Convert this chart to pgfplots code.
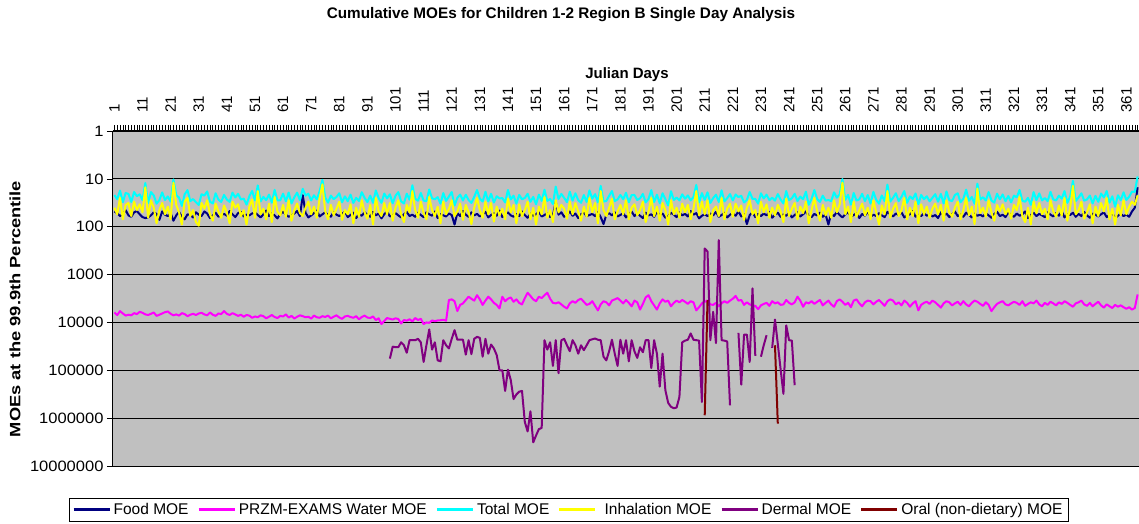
\documentclass[border=0pt]{standalone}
\usepackage{fontspec}
\setmainfont{Liberation Sans}
\usepackage{graphicx}
\usepackage{pgfplots}
\usepackage{pgfplotstable}
\pgfplotsset{compat=1.18}
\definecolor{plotbg}{RGB}{192,192,192}
\definecolor{foodc}{RGB}{0,0,128}
\definecolor{waterc}{RGB}{255,0,255}
\definecolor{totalc}{RGB}{0,255,255}
\definecolor{inhalc}{RGB}{255,255,0}
\definecolor{dermc}{RGB}{128,0,128}
\definecolor{oralc}{RGB}{128,0,0}

\pgfplotstableread{
d F W T I
1 48 6200 21.8 40
2 52 7000 26.7 55
3 60 5800 17.6 25
4 55 6500 30.8 70
5 45 7200 19.7 35
6 58 6900 20.6 32
7 62 7100 30.5 60
8 50 6400 18.8 30
9 47 6700 23 45
10 55 6000 21 34
11 63 6300 27.9 50
12 66 6800 12.2 15
13 64 7000 32.2 65
14 58 6600 18.9 28
15 50 6200 22.2 40
16 54 7300 33 85
17 72 6900 27.7 45
18 48 6500 19.2 32
19 56 6100 27.7 55
20 60 5900 23.3 38
21 52 6600 29.8 70
22 75 7100 10.3 12
23 58 6800 21.8 35
24 49 7200 24.7 50
25 62 6400 36.7 90
26 70 6700 21 30
27 55 7400 17.2 25
28 57 6900 29.2 60
29 64 6600 26.4 45
30 50 7000 30.8 80
31 56 6500 35.2 95
32 60 6300 20.9 32
33 48 6800 22.4 42
34 53 7100 18.3 28
35 66 6200 30 55
36 58 6900 32.7 75
37 51 7300 20 33
38 62 6500 27.1 48
39 57 6700 30.4 65
40 54 5800 21.6 36
41 59 6600 27.1 50
42 47 7000 30.3 85
43 55 6400 19.4 30
44 63 6800 24.5 40
45 52 7300 20.6 34
46 49 6900 27 60
47 61 7600 25.9 45
48 56 7000 34.5 90
49 58 7200 23 38
50 53 8000 17.9 27
51 50 7500 28.3 65
52 57 7800 13.7 18
53 64 7100 29.6 55
54 55 7400 23.8 42
55 46 8200 27.8 70
56 60 7600 21.3 33
57 52 7000 31.5 80
58 58 7700 17 24
59 67 8100 28 48
60 54 7300 28 58
61 49 7500 20.4 35
62 56 6800 29.4 62
63 62 7900 19.3 28
64 58 7300 32.7 75
65 53 8300 24.3 45
66 47 7600 19.4 33
67 60 7100 27.9 52
68 22 7400 16.1 60
69 51 7800 22.4 40
70 64 7600 20.4 30
71 58 8300 28.2 55
72 52 7200 22 38
73 46 7800 26.9 65
74 61 8000 18.2 26
75 55 7400 10.5 13
76 50 7700 24.5 48
77 57 7200 31.4 70
78 62 8200 22.4 35
79 49 7600 26.6 58
80 56 7100 24 42
81 60 7900 20 30
82 54 8400 30.9 72
83 48 7500 23.2 45
84 63 7300 29.4 55
85 57 7700 21.3 34
86 51 8000 31.9 85
87 66 7400 24.9 40
88 55 8600 29.1 62
89 59 7700 19 28
90 50 7200 25 50
91 56 7900 30.7 68
92 62 8100 22.4 35
93 49 7500 31.7 90
94 58 8900 17.5 25
95 53 8200 25.2 48
96 67 10800 31.7 60
97 55 9300 20.2 32
98 48 8100 25.6 55
99 61 8400 21 32
100 57 8700 32.4 75
101 52 8200 22.6 40
102 58 8500 18.9 28
103 64 10500 29.6 55
104 55 8900 32.6 80
105 49 9200 20.4 35
106 60 8600 27.3 50
107 56 9500 13.6 18
108 62 8100 26.1 45
109 51 8900 28.6 65
110 57 8400 19.7 30
111 63 10800 28.5 52
112 50 10000 29.2 70
113 55 10200 16.7 24
114 59 9100 25.5 45
115 48 9400 26.7 60
116 66 9100 24.1 38
117 54 9000 33 85
118 58 8800 19.8 30
119 61 9200 28.9 55
120 53 3400 23.4 42
121 57 3300 18.8 28
122 90 3600 36 60
123 52 5800 25 48
124 60 4300 21.3 33
125 47 4000 28.4 72
126 56 3400 21.5 35
127 62 2900 27.7 50
128 50 3200 31.9 88
129 58 3500 23.7 40
130 54 2700 17.1 25
131 61 3300 25.9 45
132 55 4300 29.8 65
133 49 3500 18.6 30
134 64 2900 29.6 55
135 57 3300 20.5 32
136 52 3900 31.2 78
137 59 4300 23.1 38
138 46 5100 25.7 58
139 63 2900 25.2 42
140 56 3600 31.1 70
141 50 3200 17.1 26
142 58 3000 26.9 50
143 62 3700 22.4 35
144 54 3300 33 85
145 60 3900 21.7 34
146 48 4200 26.7 60
147 57 3100 25.1 45
148 65 2400 20.5 30
149 53 2800 30.2 70
150 59 3300 23.8 40
151 55 3600 34.1 90
152 49 2900 21.4 38
153 61 3100 28.9 55
154 57 2700 16.9 24
155 52 2400 28.9 65
156 63 3200 26.3 45
157 58 3900 33.6 80
158 30 4000 14.5 28
159 56 3800 26.4 50
160 50 4200 20.6 35
161 62 4700 25 42
162 56 5100 30.7 68
163 48 4000 18.5 30
164 59 3600 28.5 55
165 53 3900 20 32
166 66 3400 27.8 48
167 55 3200 31.7 75
168 51 3700 21.8 38
169 60 4300 30.5 62
170 57 4100 17.4 25
171 54 3600 26 50
172 60 4500 20.9 32
173 49 5600 31.1 85
174 63 4200 14 18
175 88 3600 29.8 45
176 56 3800 29 60
177 52 4400 22.6 40
178 58 3500 18 26
179 50 3300 29.2 70
180 61 3100 26.9 48
181 57 3500 21.7 35
182 52 4000 26.7 55
183 64 3400 19.5 28
184 55 3900 30.8 70
185 48 4600 21.8 40
186 60 3500 21.7 34
187 53 3800 27.7 58
188 59 5400 25.5 45
189 66 4100 20.6 30
190 51 3000 31.1 80
191 58 2700 26.3 48
192 55 3600 17.2 25
193 62 4400 30.5 60
194 49 5400 21.4 38
195 57 4000 32.4 75
196 53 3300 20 32
197 65 3700 26.6 45
198 60 3500 36 90
199 51 4600 18.1 28
200 56 3900 27.7 55
201 63 3500 24.5 40
202 50 3800 28.3 65
203 58 3400 21 33
204 54 3700 26 50
205 61 4100 22.2 35
206 47 3600 28.1 70
207 56 3800 24 42
208 52 5600 13.4 18
209 67 4800 31.1 58
210 59 4000 19.9 30
211 55 3700 27.5 55
212 60 3500 19.1 28
213 53 4200 31.9 80
214 58 4300 25.3 45
215 49 3900 21.4 38
216 62 4600 30.5 60
217 57 4000 17.4 25
218 51 3600 29.5 70
219 64 3900 25.4 42
220 56 3500 20.8 33
221 52 3200 28.3 62
222 59 2800 21.2 33
223 48 3500 24 48
224 61 3400 22.6 36
225 55 4300 31.2 72
226 88 3800 27.5 40
227 57 4200 18.8 28
228 50 4400 26.2 55
229 63 4500 26.3 45
230 54 5300 33 85
231 60 4400 20 30
232 53 4100 25.7 50
233 58 3900 21.4 34
234 49 4500 27.9 65
235 65 3600 24.8 40
236 56 4000 28.5 58
237 51 3800 20.8 35
238 62 4300 27.1 48
239 55 4200 32.6 80
240 59 3400 18 26
241 52 3900 27.9 60
242 64 4200 25.4 42
243 57 3800 20.5 32
244 50 2900 29.2 70
245 61 3500 23.4 38
246 55 4700 26.7 52
247 48 3800 18.5 30
248 59 4000 34.8 85
249 63 3600 26.3 45
250 54 4100 17.1 25
251 58 3700 26.3 48
252 51 3400 30.4 75
253 62 4400 22.4 35
254 56 3900 28.5 58
255 90 3500 27.7 40
256 53 4200 29.2 65
257 60 4700 19.1 28
258 49 3600 24.7 50
259 57 3300 21.3 34
260 64 3700 10.1 12
261 55 4300 27.5 55
262 50 3900 21.6 38
263 61 4800 34.6 80
264 57 3500 19.7 30
265 52 3300 28.3 62
266 66 4000 26.8 45
267 54 4600 20.5 33
268 59 3800 29.2 58
269 48 3500 21.8 40
270 62 3600 32.9 70
271 56 4200 18.7 28
272 60 3700 27.3 50
273 52 3400 33 90
274 58 3900 22.2 36
275 63 4500 29.4 55
276 49 3600 13.2 18
277 55 3300 29.8 65
278 61 3500 24.9 42
279 53 4200 20 32
280 57 3800 29.2 60
281 50 4400 23.7 45
282 64 3500 18 25
283 58 3900 31.7 70
284 55 4700 23.2 40
285 47 4000 26.4 60
286 62 3600 20.2 30
287 56 5600 33.8 85
288 60 4300 21.7 34
289 52 3900 26.7 55
290 59 3700 23.1 38
291 54 4100 29.5 65
292 61 3500 24.9 42
293 57 3800 20.9 33
294 66 4300 30 55
295 50 4900 20.6 35
296 58 4000 32.7 75
297 53 3600 18.3 28
298 63 3800 27.9 50
299 55 4400 29.1 62
300 48 4000 21.8 40
301 60 3700 20 30
302 55 4300 30.8 70
303 62 3600 26.1 45
304 51 4200 16.8 25
305 57 4600 28.7 58
306 64 3900 23.8 38
307 53 3500 33.1 88
308 59 3700 12.6 16
309 56 4100 27 52
310 61 4500 24.2 40
311 52 3800 28.3 62
312 58 4300 18.9 28
313 65 5800 28.3 50
314 54 4800 31.4 75
315 49 4100 20.4 35
316 60 3800 26.7 48
317 56 3600 21.2 34
318 63 4200 29.4 55
319 50 4400 22.8 42
320 57 4000 31 68
321 62 3700 22.4 35
322 53 3900 24.3 45
323 59 4300 17.1 24
324 55 3600 28.7 60
325 48 4500 30 80
326 66 4100 24.9 40
327 57 3800 34.9 90
328 51 4000 18.9 30
329 60 3500 27.9 52
330 54 4200 20.1 32
331 58 4600 28.2 55
332 63 3900 25.2 42
333 50 4300 29.2 70
334 56 3700 18.7 28
335 61 4000 26.9 48
336 52 4400 28.3 62
337 59 3800 22.4 36
338 47 4100 26 58
339 64 3600 18 25
340 55 3900 31.7 75
341 57 4300 23.5 40
342 51 4700 11 14
343 62 4000 29.1 55
344 54 3800 24.5 45
345 60 3500 20 30
346 49 4200 28.5 68
347 58 4500 26.9 50
348 65 3900 22.3 34
349 53 4600 32.6 85
350 56 4100 22.6 38
351 61 3700 30.2 60
352 55 4400 20.2 32
353 50 4900 24.5 48
354 63 4200 17.9 25
355 57 4600 31.4 70
356 52 5000 23.2 42
357 66 4300 38.1 90
358 59 4700 22 35
359 54 4400 28 58
360 60 4800 19.1 28
361 56 5200 27.7 55
362 62 4800 23.6 38
363 48 5400 18.5 30
364 40 5000 18.7 35
365 15 2600 8.9 22
}\maindata

\pgfplotstableread{
d D
99 57000
100 32000
101 33000
102 33000
103 26000
104 30000
105 43000
106 23500
107 23500
108 23500
109 22000
110 26000
111 67000
112 30000
113 14000
114 37000
115 26000
116 62000
117 65000
118 23500
119 30000
120 35000
121 22000
122 14500
123 23000
124 23000
125 23000
126 47000
127 23500
128 46000
129 22000
130 20000
131 21000
132 52000
133 22000
134 45000
135 29000
136 35000
137 48000
138 100000
139 100000
140 270000
141 97000
142 160000
143 400000
144 320000
145 280000
146 270000
147 1200000
148 1900000
149 720000
150 3200000
151 2300000
152 1700000
153 1600000
154 23500
155 37000
156 26000
157 81000
158 23500
159 115000
160 23500
161 22000
162 30000
163 40000
164 23500
165 30000
166 45000
167 30000
168 38000
169 30000
170 23500
171 22500
172 21700
173 23000
174 23500
175 52000
176 62000
177 40000
178 23000
179 45000
180 81000
181 23000
182 45000
183 23500
184 65000
185 23500
186 40000
187 55000
188 33000
189 42000
190 23500
191 23500
192 90000
193 23500
194 45000
195 220000
196 45000
197 260000
198 480000
199 580000
200 620000
201 600000
202 360000
203 26000
204 24000
205 23000
206 17000
207 23000
208 23500
209 24000
210 460000
211 285
212 330
213 23500
214 6000
215 27000
216 190
217 23500
218 24000
219 25000
220 540000
221 nan
222 nan
223 16500
224 200000
225 18000
226 18000
227 67000
228 1950
229 50000
230 nan
231 52000
232 30000
233 18500
234 nan
235 34000
236 8700
237 28000
238 95000
239 310000
240 11500
241 23500
242 24000
243 205000
}\dermaldata

\pgfplotstableread{
d O
211 870000
212 3400
213 nan
236 30000
237 1300000
}\oraldata

\newcommand{\chartfont}{\fontsize{15}{18}\selectfont}
\newcommand{\legfont}{\fontsize{15.5}{18}\selectfont}
\newcommand{\yt}[1]{\scalebox{1.1}[1]{#1}}

\begin{document}
\begin{tikzpicture}
\path[use as bounding box] (-113pt,-58pt) rectangle (1026pt,466pt);
\begin{axis}[
  at={(0pt,0pt)}, anchor=south west,
  scale only axis, width=1026pt, height=335pt,
  xmin=0.5, xmax=365.5,
  ymode=log, ymin=1, ymax=1e7, y dir=reverse,
  axis background/.style={fill=plotbg},
  axis x line*=top, axis y line*=left,
  axis line style={line width=1pt, black},
  xtick={1,11,...,361},
  xticklabels={1,11,21,31,41,51,61,71,81,91,101,111,121,131,141,151,161,171,181,191,201,211,221,231,241,251,261,271,281,291,301,311,321,331,341,351,361},
  minor xtick={1,...,365},
  ytick={1,10,100,1000,10000,100000,1000000,10000000},
  yticklabels={\yt{1},\yt{10},\yt{100},\yt{1000},\yt{10000},\yt{100000},\yt{1000000},\yt{10000000}},
  yminorticks=false,
  tick align=outside,
  major tick length=6pt, minor tick length=6pt,
  tick style={black, line width=0.6pt},
  ymajorgrids=true,
  major grid style={black, line width=0.9pt},
  ticklabel style={font=\chartfont},
  xticklabel style={rotate=90, anchor=west},
  xticklabel shift=9pt,
  unbounded coords=jump,
  legend columns=6,
  legend style={name=leg, at={(0.4444,-0.1299)}, anchor=center, draw=none, fill=white,
    font=\legfont, inner xsep=3pt, inner ysep=4pt,
    nodes={inner xsep=3pt, inner ysep=1pt},
    /tikz/every even column/.append style={column sep=6pt}},
  legend image code/.code={\draw[#1] (0pt,0pt) -- (36pt,0pt);},
  legend image post style={line width=2.2pt},
]
\addplot[draw=foodc, line width=2pt, line join=round] table[x=d, y=F] {\maindata};
\addlegendentry{Food MOE}
\addplot[draw=waterc, line width=2pt, line join=round] table[x=d, y=W] {\maindata};
\addlegendentry{PRZM-EXAMS Water MOE}
\addplot[draw=totalc, line width=2pt, line join=round] table[x=d, y=T] {\maindata};
\addlegendentry{Total MOE}
\addplot[draw=inhalc, line width=2pt, line join=round] table[x=d, y=I] {\maindata};
\addlegendentry{\hspace{5pt}Inhalation MOE}
\addplot[draw=dermc, line width=2pt, line join=round] table[x=d, y=D] {\dermaldata};
\addlegendentry{Dermal MOE}
\addplot[draw=oralc, line width=2pt, line join=round] table[x=d, y=O] {\oraldata};
\addlegendentry{Oral (non-dietary) MOE\hspace{7pt}}
\end{axis}
\draw[black, line width=0.8pt] (leg.south west) rectangle (leg.north east);
\node[font=\bfseries\fontsize{15.3}{18}\selectfont] at (448pt,451pt) {Cumulative MOEs for Children 1-2 Region B Single Day Analysis};
\node[font=\bfseries\chartfont] at (514pt,391pt) {Julian Days};
\node[font=\bfseries\chartfont, rotate=90] at (-98pt,157pt) {\scalebox{1.22}[1]{MOEs at the 99.9th Percentile}};
\end{tikzpicture}
\end{document}
